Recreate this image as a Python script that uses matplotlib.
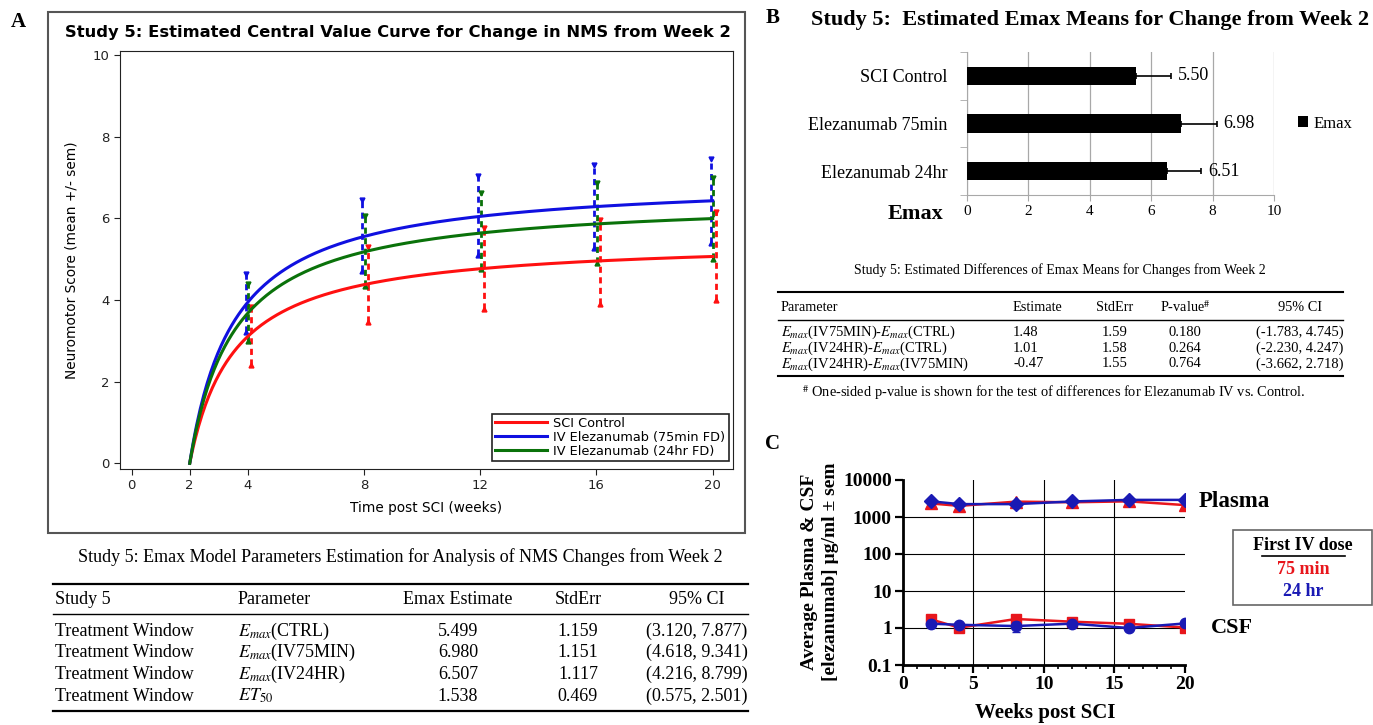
import numpy as np
import matplotlib
matplotlib.use("Agg")
import matplotlib.pyplot as plt
from matplotlib.lines import Line2D
from matplotlib.patches import Rectangle
from matplotlib.ticker import FixedLocator, NullLocator

plt.rcParams['mathtext.fontset'] = 'stix'

W, H = 1373, 725
SERIF = 'Liberation Serif'
SANS = 'DejaVu Sans'

# ---- panel A: NMS change from week 2 (mean +/- sem) ----
nms_weeks = [4, 8, 12, 16, 20]
group_names = ["SCI Control", "IV Elezanumab (75min FD)", "IV Elezanumab (24hr FD)"]
ctrl_mean = [3.12, 4.37, 4.77, 4.94, 5.08]
ctrl_sem = [0.71, 0.92, 0.99, 1.03, 1.07]
iv75_mean = [3.93, 5.57, 6.07, 6.29, 6.43]
iv75_sem = [0.71, 0.87, 0.96, 1.01, 1.03]
iv24_mean = [3.69, 5.20, 5.68, 5.89, 6.00]
iv24_sem = [0.70, 0.86, 0.93, 0.98, 1.00]

# ---- table under panel A ----
t1_header = ["Study 5", "Parameter", "Emax Estimate", "StdErr", "95% CI"]
t1_window = ["Treatment Window"] * 4
t1_param = [r"$E_{max}$(CTRL)", r"$E_{max}$(IV75MIN)", r"$E_{max}$(IV24HR)", r"$ET_{50}$"]
t1_est = [5.499, 6.980, 6.507, 1.538]
t1_se = [1.159, 1.151, 1.117, 0.469]
t1_ci = ["(3.120, 7.877)", "(4.618, 9.341)", "(4.216, 8.799)", "(0.575, 2.501)"]

# ---- panel B ----
bar_labels = ["SCI Control", "Elezanumab 75min", "Elezanumab 24hr"]
bar_vals = [5.50, 6.98, 6.51]
bar_err = [1.159, 1.151, 1.117]

# ---- table under panel B ----
t2_header = ["Parameter", "Estimate", "StdErr", "P-value$^{\\#}$", "95% CI"]
t2_param = [r"$E_{max}$(IV75MIN)-$E_{max}$(CTRL)",
            r"$E_{max}$(IV24HR)-$E_{max}$(CTRL)",
            r"$E_{max}$(IV24HR)-$E_{max}$(IV75MIN)"]
t2_est = ["1.48", "1.01", "-0.47"]
t2_se = ["1.59", "1.58", "1.55"]
t2_p = ["0.180", "0.264", "0.764"]
t2_ci = ["(-1.783, 4.745)", "(-2.230, 4.247)", "(-3.662, 2.718)"]

# ---- panel C: PK ----
pk_weeks = [2, 4, 8, 12, 16, 20]
plasma_75 = [2320, 2000, 2600, 2500, 2650, 2100]
plasma_24 = [2650, 2230, 2230, 2630, 2900, 2900]
csf_75 = [1.70, 1.02, 1.75, 1.48, 1.30, 1.03]
csf_24 = [1.31, 1.22, 1.13, 1.31, 1.00, 1.33]
csf_24_sem = [0.05, 0.05, 0.35, 0.10, 0.05, 0.05]
pk_ytick_labels = ["0.1", "1", "10", "100", "1000", "10000"]

RED, BLUE, GREEN = '#ff1010', '#1010e0', '#0a720a'
PK_RED, PK_BLUE = '#e8161c', '#1a1ab4'

fig = plt.figure(figsize=(W / 100, H / 100), dpi=100)


def px_axes(l, t, r, b):
    return fig.add_axes([l / W, 1 - b / H, (r - l) / W, (b - t) / H])


def ftext(x, y, s, **kw):
    return fig.text(x / W, 1 - y / H, s, **kw)


def hrule(x0, x1, y, lw):
    fig.add_artist(Line2D([x0 / W, x1 / W], [1 - y / H] * 2, color='k', lw=lw))


# ================= panel A =================
fig.add_artist(Rectangle((48 / W, 1 - 533 / H), (745 - 48) / W, (533 - 12) / H,
                         transform=fig.transFigure, fill=False, lw=1.5, ec='#555555'))
ftext(18, 22, 'A', family=SERIF, weight='bold', size=15, ha='center', va='center')
ftext(398, 33, "Study 5: Estimated Central Value Curve for Change in NMS from Week 2",
      family=SANS, weight='bold', size=11.8, ha='center', va='center')

axA = px_axes(120, 51, 733, 469)
t = np.linspace(2, 20, 300)
series = [(ctrl_mean, ctrl_sem, RED, 0.12), (iv75_mean, iv75_sem, BLUE, -0.07),
          (iv24_mean, iv24_sem, GREEN, 0.02)]
for i, (m, s, c, dx) in enumerate(series):
    emax, et50 = t1_est[i], t1_est[3]
    axA.plot(t, emax * (t - 2) / (et50 + t - 2), color=c, lw=2.2, zorder=4, label=group_names[i])
for m, s, c, dx in series:
    x = np.array(nms_weeks) + dx
    lo = np.array(m) - np.array(s)
    hi = np.array(m) + np.array(s)
    axA.vlines(x, lo, hi, colors=c, linestyles=(0, (2.2, 1.6)), lw=2, zorder=3)
    axA.plot(x, hi, 'v', color=c, ms=3.5, zorder=3)
    axA.plot(x, lo, '^', color=c, ms=3.5, zorder=3)

axA.set_xlim(-0.4, 20.7)
axA.set_ylim(-0.14, 10.1)
axA.set_xticks([0, 2, 4, 8, 12, 16, 20])
axA.set_yticks(range(0, 11, 2))
axA.tick_params(direction='out', length=4, labelsize=9.5, colors='#222222')
for sp in axA.spines.values():
    sp.set_color('#222222')
axA.set_xlabel("Time post SCI (weeks)", fontsize=9.8, family=SANS, labelpad=6)
axA.set_ylabel("Neuromotor Score (mean +/- sem)", fontsize=9.8, family=SANS, labelpad=10)
leg = axA.legend(loc='lower right', bbox_to_anchor=(0.993, 0.019), borderaxespad=0,
                 fancybox=False, framealpha=1, edgecolor='#222222', fontsize=9.3,
                 handlelength=4.0, labelspacing=0.08, borderpad=0.25, handletextpad=0.5)
leg.get_frame().set_linewidth(1.2)

# ---- table 1 ----
ftext(400, 557, "Study 5: Emax Model Parameters Estimation for Analysis of NMS Changes from Week 2",
      family=SERIF, size=13, ha='center', va='center')
hrule(53, 748, 584, 1.6)
hrule(53, 748, 614, 1.0)
hrule(53, 748, 711, 1.6)
t1_x = [(55, 'left'), (238, 'left'), (458, 'center'), (578, 'center'), (697, 'center')]
for (x, ha), txt in zip(t1_x, t1_header):
    ftext(x, 600, txt, family=SERIF, size=13, ha=ha, va='center')
for r in range(4):
    y = 631 + r * 21.7
    row = [t1_window[r], t1_param[r], f"{t1_est[r]:.3f}", f"{t1_se[r]:.3f}", t1_ci[r]]
    for (x, ha), txt in zip(t1_x, row):
        ftext(x, y, txt, family=SERIF, size=13, ha=ha, va='center')

# ================= panel B =================
ftext(773, 18, 'B', family=SERIF, weight='bold', size=15, ha='center', va='center')
ftext(1090, 20, "Study 5:  Estimated Emax Means for Change from Week 2",
      family=SERIF, weight='bold', size=16, ha='center', va='center')

axB = px_axes(967, 52, 1274, 195)
ypos = np.arange(len(bar_vals))
axB.barh(ypos, bar_vals, height=0.39, color='black', label='Emax', zorder=3,
         xerr=[[0] * len(bar_err), bar_err],
         error_kw=dict(ecolor='black', lw=1.2, capsize=2.5, capthick=1.2))
for i, (v, e) in enumerate(zip(bar_vals, bar_err)):
    axB.text(v + e + 0.22, i, f"{v:.2f}", va='center', ha='left', family=SERIF, size=13)
axB.set_xlim(0, 10)
axB.set_ylim(2.5, -0.5)
axB.set_xticks(range(0, 11, 2))
axB.grid(axis='x', color='#a8a8a8', lw=0.9)
axB.set_axisbelow(True)
for k in ('top', 'right'):
    axB.spines[k].set_visible(False)
for k in ('left', 'bottom'):
    axB.spines[k].set_color('#a8a8a8')
axB.set_yticks(ypos)
axB.set_yticklabels(bar_labels, family=SERIF, size=13)
axB.yaxis.set_minor_locator(FixedLocator([-0.5, 0.5, 1.5, 2.5]))
axB.tick_params(axis='y', which='major', length=0, pad=14)
axB.tick_params(axis='y', which='minor', length=5, color='#a8a8a8')
axB.tick_params(axis='x', length=4, color='#a8a8a8', labelsize=11)
for lab in axB.get_xticklabels():
    lab.set_family(SERIF)
axB.legend(loc='center left', bbox_to_anchor=(1.03, 0.5), frameon=False,
           prop=dict(family=SERIF, size=12), handlelength=0.6, handleheight=0.6,
           handletextpad=0.3)
ftext(915, 214, 'Emax', family=SERIF, weight='bold', size=16, ha='center', va='center')

# ---- table 2 ----
ftext(1060, 270, "Study 5: Estimated Differences of Emax Means for Changes from Week 2",
      family=SERIF, size=10, ha='center', va='center')
hrule(778, 1343, 292, 1.5)
hrule(778, 1343, 320, 1.0)
hrule(778, 1343, 376, 1.5)
t2_x = [(781, 'left'), (1013, 'left'), (1115, 'center'), (1185, 'center'), (1300, 'center')]
for (x, ha), txt in zip(t2_x, t2_header):
    ftext(x, 307, txt, family=SERIF, size=10.3, ha=ha, va='center')
for r in range(3):
    y = 332 + r * 16
    row = [t2_param[r], t2_est[r], t2_se[r], t2_p[r], t2_ci[r]]
    for (x, ha), txt in zip(t2_x, row):
        ftext(x, y, txt, family=SERIF, size=10.5, ha=ha, va='center')
ftext(1054, 393, "$^{\\#}$ One-sided p-value is shown for the test of differences for Elezanumab IV vs. Control.",
      family=SERIF, size=10.4, ha='center', va='center')

# ================= panel C =================
ftext(773, 444, 'C', family=SERIF, weight='bold', size=15, ha='center', va='center')
axC = px_axes(903, 480, 1185, 665)
axC.set_yscale('log')
for xv in (5, 10, 15):
    axC.axvline(xv, color='k', lw=0.8, zorder=1)
for yv in (1, 10, 100, 1000):
    axC.axhline(yv, color='k', lw=0.8, zorder=1)
axC.plot(pk_weeks, plasma_75, color=PK_RED, marker='^', ms=8, lw=1.8, zorder=3)
axC.plot(pk_weeks, plasma_24, color=PK_BLUE, marker='D', ms=7, lw=1.8, zorder=4)
axC.plot(pk_weeks, csf_75, color=PK_RED, marker='s', ms=7, lw=1.8, zorder=3)
axC.errorbar(pk_weeks, csf_24, yerr=csf_24_sem, color=PK_BLUE, marker='o', ms=7.5,
             lw=1.8, capsize=3, elinewidth=1.3, zorder=4)
axC.set_xlim(0, 20)
axC.set_ylim(0.1, 10000)
axC.set_xticks([0, 5, 10, 15, 20])
axC.xaxis.set_minor_locator(FixedLocator(range(1, 20)))
axC.set_yticks([0.1, 1, 10, 100, 1000, 10000])
axC.set_yticklabels(pk_ytick_labels)
axC.yaxis.set_minor_locator(NullLocator())
for k in ('top', 'right'):
    axC.spines[k].set_visible(False)
for k in ('left', 'bottom'):
    axC.spines[k].set_linewidth(2)
axC.tick_params(which='major', length=6, width=1.6, labelsize=14, pad=2)
axC.tick_params(which='minor', length=3, width=1.2)
for lab in axC.get_xticklabels() + axC.get_yticklabels():
    lab.set_family(SERIF)
    lab.set_weight('bold')
axC.text(21.0, 2600, 'Plasma', family=SERIF, weight='bold', size=16.5, va='center', clip_on=False)
axC.text(21.8, 1.0, 'CSF', family=SERIF, weight='bold', size=16, va='center', clip_on=False)

fig.add_artist(Rectangle((1233 / W, 1 - 605 / H), (1372 - 1233) / W, (605 - 530) / H,
                         transform=fig.transFigure, fill=False, lw=1.2, ec='#666666'))
ftext(1303, 546, 'First IV dose', family=SERIF, weight='bold', size=13, ha='center', va='center')
fig.add_artist(Line2D([1262 / W, 1345 / W], [1 - 556 / H] * 2, color='k', lw=1.2))
ftext(1303, 569, '75 min', family=SERIF, weight='bold', size=13, ha='center', va='center', color=PK_RED)
ftext(1303, 591, '24 hr', family=SERIF, weight='bold', size=13, ha='center', va='center', color=PK_BLUE)

ftext(820, 572, "Average Plasma & CSF\n[elezanumab] \u00b5g/ml \u00b1 sem", family=SERIF,
      weight='bold', size=14, rotation=90, ha='center', va='center', linespacing=1.3)
ftext(1045, 713, 'Weeks post SCI', family=SERIF, weight='bold', size=15, ha='center', va='center')

fig.savefig('out.png', dpi=100)
